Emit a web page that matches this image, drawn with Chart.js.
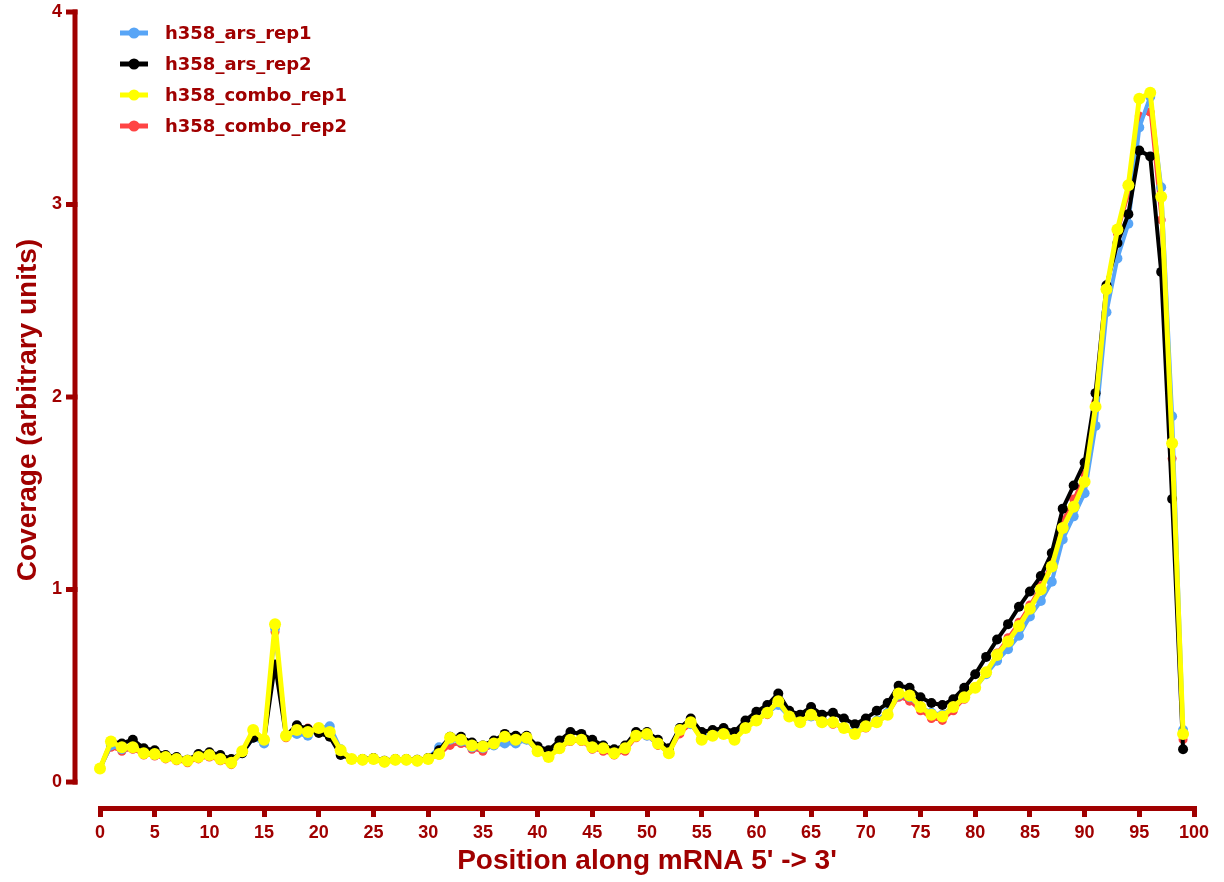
<!DOCTYPE html>
<html lang="en">
<head>
<meta charset="UTF-8" />
<title>mRNA coverage</title>
<script src="https://cdn.jsdelivr.net/npm/chart.js@4"></script>
<style>
  html, body { margin: 0; padding: 0; background: #fff; }
  #wrap { width: 1224px; height: 882px; }
</style>
</head>
<body>
<div id="wrap"><canvas id="chart" width="1224" height="882"></canvas></div>
<script>
// positions along the transcript (0..99)
const positions = Array.from({ length: 100 }, (_, i) => i);

const xTicks = [0, 5, 10, 15, 20, 25, 30, 35, 40, 45, 50, 55, 60, 65, 70, 75, 80, 85, 90, 95, 100];
const yTicks = [0, 1, 2, 3, 4];

const arsRep1 = [
  0.07, 0.19, 0.17, 0.18, 0.15, 0.14, 0.13, 0.12, 0.11, 0.13,
  0.14, 0.12, 0.10, 0.15, 0.23, 0.20, 0.80, 0.24, 0.25, 0.24,
  0.28, 0.29, 0.17, 0.12, 0.115, 0.12, 0.105, 0.115, 0.115, 0.11,
  0.125, 0.18, 0.22, 0.21, 0.18, 0.175, 0.19, 0.20, 0.20, 0.22,
  0.16, 0.14, 0.18, 0.22, 0.22, 0.19, 0.19, 0.16, 0.18, 0.24,
  0.24, 0.20, 0.16, 0.28, 0.30, 0.23, 0.25, 0.27, 0.23, 0.29,
  0.33, 0.36, 0.40, 0.34, 0.32, 0.34, 0.32, 0.31, 0.28, 0.26,
  0.29, 0.32, 0.36, 0.45, 0.44, 0.39, 0.36, 0.35, 0.39, 0.45,
  0.49, 0.56, 0.63, 0.69, 0.76, 0.86, 0.94, 1.04, 1.26, 1.38,
  1.50, 1.85, 2.44, 2.72, 2.90, 3.40, 3.56, 3.09, 1.90, 0.27
];

const arsRep2 = [
  0.07, 0.21, 0.20, 0.22, 0.175, 0.165, 0.14, 0.13, 0.115, 0.145,
  0.155, 0.14, 0.12, 0.15, 0.23, 0.22, 0.61, 0.24, 0.295, 0.275,
  0.255, 0.235, 0.14, 0.12, 0.12, 0.125, 0.11, 0.12, 0.12, 0.115,
  0.125, 0.165, 0.235, 0.235, 0.205, 0.19, 0.215, 0.25, 0.24, 0.24,
  0.185, 0.165, 0.215, 0.26, 0.25, 0.22, 0.19, 0.17, 0.19, 0.26,
  0.26, 0.22, 0.175, 0.28, 0.33, 0.26, 0.27, 0.28, 0.26, 0.32,
  0.365, 0.40, 0.46, 0.37, 0.35, 0.39, 0.35, 0.36, 0.33, 0.30,
  0.33, 0.37, 0.41, 0.50, 0.49, 0.44, 0.41, 0.40, 0.43, 0.49,
  0.56, 0.65, 0.74, 0.82, 0.91, 0.99, 1.07, 1.19, 1.42, 1.54,
  1.66, 2.02, 2.58, 2.80, 2.95, 3.28, 3.25, 2.65, 1.47, 0.17
];

const comboRep1 = [
  0.07, 0.21, 0.18, 0.18, 0.15, 0.145, 0.13, 0.12, 0.11, 0.13,
  0.14, 0.12, 0.10, 0.16, 0.27, 0.22, 0.82, 0.24, 0.27, 0.26,
  0.28, 0.26, 0.165, 0.12, 0.115, 0.12, 0.105, 0.115, 0.115, 0.11,
  0.12, 0.145, 0.23, 0.22, 0.19, 0.185, 0.20, 0.235, 0.22, 0.23,
  0.16, 0.13, 0.175, 0.22, 0.22, 0.18, 0.175, 0.15, 0.175, 0.24,
  0.25, 0.20, 0.15, 0.27, 0.31, 0.22, 0.24, 0.25, 0.22, 0.28,
  0.32, 0.36, 0.42, 0.34, 0.31, 0.35, 0.31, 0.31, 0.28, 0.25,
  0.29, 0.31, 0.35, 0.46, 0.45, 0.39, 0.35, 0.34, 0.39, 0.44,
  0.49, 0.57, 0.66, 0.73, 0.81, 0.90, 1.00, 1.12, 1.32, 1.43,
  1.56, 1.95, 2.56, 2.87, 3.10, 3.55, 3.58, 3.04, 1.76, 0.25
];

const comboRep2 = [
  0.07, 0.18, 0.16, 0.17, 0.14, 0.135, 0.12, 0.11, 0.10, 0.12,
  0.13, 0.11, 0.09, 0.15, 0.26, 0.22, 0.78, 0.23, 0.28, 0.28,
  0.27, 0.25, 0.16, 0.115, 0.11, 0.115, 0.10, 0.11, 0.11, 0.105,
  0.115, 0.14, 0.19, 0.20, 0.17, 0.16, 0.19, 0.22, 0.21, 0.22,
  0.155, 0.13, 0.17, 0.21, 0.21, 0.17, 0.16, 0.14, 0.16, 0.23,
  0.24, 0.19, 0.15, 0.25, 0.30, 0.22, 0.24, 0.25, 0.22, 0.28,
  0.32, 0.35, 0.41, 0.34, 0.31, 0.34, 0.31, 0.30, 0.28, 0.25,
  0.28, 0.31, 0.35, 0.44, 0.42, 0.37, 0.33, 0.32, 0.37, 0.43,
  0.49, 0.57, 0.67, 0.75, 0.83, 0.92, 1.02, 1.14, 1.36, 1.47,
  1.60, 1.97, 2.56, 2.85, 3.05, 3.46, 3.48, 2.92, 1.68, 0.22
];

const DARK = "#a00000";
const FONT = "'Liberation Sans', Arial, sans-serif";
const LEGEND_FONT = "'DejaVu Sans', Verdana, sans-serif";

function series(label, data, color, width, radius, order) {
  return {
    label, data, order,
    borderColor: color,
    backgroundColor: color,
    pointBackgroundColor: color,
    pointBorderColor: color,
    borderWidth: width,
    borderJoinStyle: "round",
    pointRadius: radius,
    pointBorderWidth: 0,
    tension: 0,
    clip: false,
  };
}

// y axis is drawn apart from the plot (offset to the left), plus the legend
const extrasPlugin = {
  id: "extras",
  afterDraw(chart) {
    const { ctx, chartArea, scales } = chart;
    const y = scales.y;
    const ax = chartArea.left - 25;
    ctx.save();
    ctx.strokeStyle = DARK;
    ctx.lineWidth = 5;
    ctx.beginPath();
    ctx.moveTo(ax, y.getPixelForValue(0) + 2.5);
    ctx.lineTo(ax, y.getPixelForValue(4) - 2.5);
    ctx.stroke();
    yTicks.forEach((v) => {
      const py = y.getPixelForValue(v);
      ctx.beginPath();
      ctx.moveTo(ax - 9, py);
      ctx.lineTo(ax + 2.5, py);
      ctx.stroke();
    });

    // legend
    chart.data.datasets.forEach((ds, i) => {
      const ly = 33 + i * 31;
      ctx.strokeStyle = ds.borderColor;
      ctx.fillStyle = ds.borderColor;
      ctx.lineWidth = 5;
      ctx.beginPath();
      ctx.moveTo(120, ly);
      ctx.lineTo(148, ly);
      ctx.stroke();
      ctx.beginPath();
      ctx.arc(134, ly, 5.5, 0, Math.PI * 2);
      ctx.fill();
      ctx.fillStyle = DARK;
      ctx.font = "bold 18px " + LEGEND_FONT;
      ctx.textBaseline = "middle";
      ctx.textAlign = "left";
      ctx.fillText(ds.label, 165, ly + 1);
    });
    ctx.restore();
  },
};

new Chart(document.getElementById("chart"), {
  type: "line",
  data: {
    labels: positions,
    datasets: [
      series("h358_ars_rep1", arsRep1, "#58a5f6", 4, 5, 3),
      series("h358_ars_rep2", arsRep2, "#000000", 4, 5, 2),
      series("h358_combo_rep1", comboRep1, "#ffff00", 5, 6, 1),
      series("h358_combo_rep2", comboRep2, "#ff4444", 3, 4.5, 4),
    ],
  },
  options: {
    responsive: false,
    animation: false,
    layout: { padding: { top: 12, right: 30, left: 0, bottom: 0 } },
    plugins: {
      legend: { display: false },
      tooltip: { enabled: false },
    },
    scales: {
      x: {
        type: "linear",
        min: 0,
        max: 100,
        afterBuildTicks: (s) => { s.ticks = xTicks.map((v) => ({ value: v })); },
        afterFit: (s) => { s.height = 74; },
        grid: {
          display: true,
          drawOnChartArea: false,
          drawTicks: true,
          tickLength: 9,
          lineWidth: 5,
          color: DARK,
        },
        border: { display: true, width: 5, color: DARK },
        ticks: {
          color: DARK,
          padding: 5,
          maxRotation: 0,
          autoSkip: false,
          font: { family: FONT, size: 18, weight: "bold" },
        },
        title: {
          display: true,
          text: "Position along mRNA 5' -> 3'",
          color: DARK,
          padding: { top: 0, bottom: 4 },
          font: { family: FONT, size: 28, weight: "bold" },
        },
      },
      y: {
        min: -0.135,
        max: 4,
        afterBuildTicks: (s) => { s.ticks = yTicks.map((v) => ({ value: v })); },
        afterFit: (s) => {
          s.width = 100;
          s.paddingTop = 0;
          s.paddingBottom = 0;
        },
        grid: { display: false, drawTicks: false },
        border: { display: false },
        ticks: {
          color: DARK,
          padding: 38,
          font: { family: FONT, size: 18, weight: "bold" },
        },
        title: {
          display: true,
          text: "Coverage (arbitrary units)",
          color: DARK,
          padding: { top: 11, bottom: 0 },
          font: { family: FONT, size: 28, weight: "bold" },
        },
      },
    },
  },
  plugins: [extrasPlugin],
});
</script>
</body>
</html>
